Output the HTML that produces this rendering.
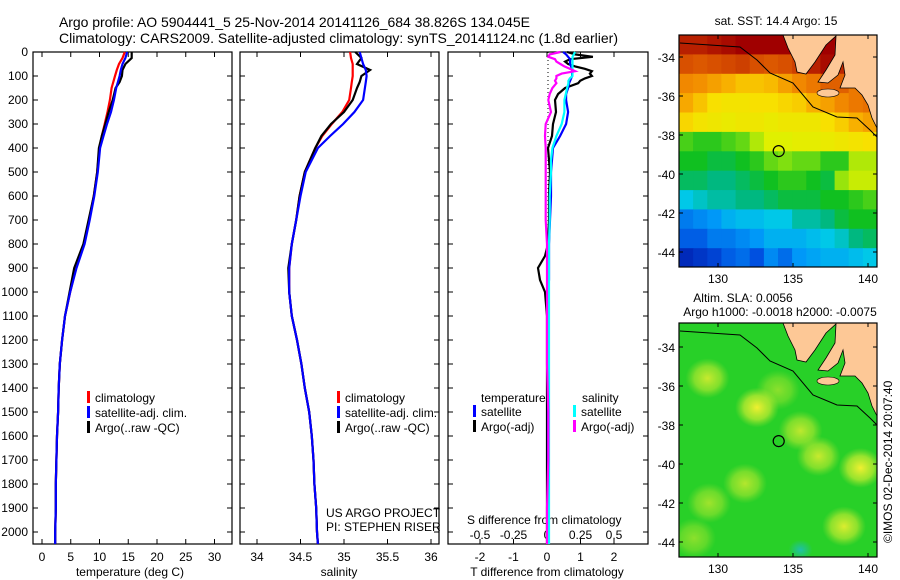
<!DOCTYPE html>
<html><head><meta charset="utf-8"><style>
html,body{margin:0;padding:0;background:#fff;}
svg{display:block;font-family:"Liberation Sans",sans-serif;}
text{font-size:12px;fill:#000;}
</style></head><body>
<svg id="chart" width="900" height="580" viewBox="0 0 900 580" xmlns="http://www.w3.org/2000/svg">
<defs>
<clipPath id="clipM1"><rect x="679" y="35" width="198" height="232"/></clipPath>
<clipPath id="clipM2"><rect x="679" y="323" width="198" height="234"/></clipPath>
<radialGradient id="blobY"><stop offset="0" stop-color="#f0f030" stop-opacity="1"/><stop offset="0.6" stop-color="#c8ec30" stop-opacity="0.7"/><stop offset="1" stop-color="#a0e030" stop-opacity="0"/></radialGradient>
<radialGradient id="blobT"><stop offset="0" stop-color="#20c0a8" stop-opacity="1"/><stop offset="1" stop-color="#20c0a8" stop-opacity="0"/></radialGradient>
</defs>
<text x="59" y="27" style="font-size:14px" textLength="471">Argo profile: AO 5904441_5 25-Nov-2014 20141126_684 38.826S 134.045E</text>
<text x="59" y="43" style="font-size:14px" textLength="559">Climatology: CARS2009. Satellite-adjusted climatology: synTS_20141124.nc (1.8d earlier)</text>
<g id="g1"></g>
<g id="g2"></g>
<g id="g3"></g>
<g id="m1"></g>
<g id="m2"></g>
<text transform="translate(892,543) rotate(-90)" style="font-size:12px">©IMOS 02-Dec-2014 20:07:40</text>
</svg>
<script>
// ---- profile data ----
const depths = [0,25,50,75,100,125,150,200,250,300,350,400,500,600,700,800,900,1000,1100,1200,1300,1400,1500,1600,1700,1800,1900,2000,2050];
const tClim = [14.4,14.0,13.4,13.0,12.7,12.4,12.1,11.8,11.4,10.9,10.4,10.0,9.6,9.0,8.2,7.3,5.9,4.9,4.0,3.5,3.1,2.9,2.8,2.6,2.5,2.4,2.4,2.3,2.3];
const tSat = [14.8,14.5,14.0,13.7,13.5,13.2,12.9,12.5,12.0,11.3,10.7,10.1,9.7,9.1,8.3,7.4,6.0,4.9,4.0,3.5,3.1,2.9,2.8,2.6,2.5,2.4,2.4,2.3,2.3];
const tArgo = [15.6,15.6,14.5,14.0,13.9,13.5,12.8,12.3,11.6,11.0,10.4,9.9,9.6,9.0,8.1,7.2,5.6,4.8,4.0,3.5,3.1,2.9,2.8,2.6,2.5,2.4,2.4,2.3,2.3];
const sClim = [35.07,35.08,35.1,35.1,35.1,35.09,35.08,35.06,34.98,34.86,34.75,34.67,34.55,34.49,34.45,34.40,34.37,34.37,34.40,34.46,34.51,34.55,34.60,34.63,34.65,34.66,34.68,34.69,34.70];
const sSat = [35.18,35.2,35.22,35.25,35.26,35.25,35.24,35.22,35.12,34.99,34.84,34.70,34.56,34.50,34.45,34.40,34.37,34.37,34.40,34.46,34.51,34.55,34.60,34.63,34.65,34.66,34.68,34.69,34.70];
const sArgo = [35.13,35.2,35.15,35.3,35.2,35.18,35.15,35.1,35.0,34.85,34.74,34.67,34.55,34.49,34.45,34.40,34.36,34.37,34.40,34.46,34.51,34.55,34.60,34.63,34.65,34.66,34.68,34.69,34.70];
const dDepths = [0,10,20,30,40,50,60,70,80,90,100,110,120,130,150,175,200,250,300,350,400,450,500,600,700,800,850,900,950,1000,1100,1300,1500,1700,1900,2050];
const dTArgo = [0.6,0.84,1.37,0.69,0.54,0.63,0.84,1.13,1.34,1.28,1.34,1.13,0.99,0.93,0.54,0.33,0.24,0.27,0.18,0.15,0.03,0.06,0.09,0.06,0.06,0.03,-0.06,-0.27,-0.21,-0.06,0,0,0,0,0,0];
const dTSat = [0.48,0.57,0.63,0.69,0.69,0.69,0.72,0.75,0.75,0.75,0.75,0.72,0.69,0.66,0.63,0.57,0.57,0.63,0.57,0.39,0.18,0.15,0.12,0.12,0.09,0.06,0.06,0.06,0.06,0.03,0.03,0.03,0.03,0.03,0.03,0.03];
const dSSat = [0.21,0.2,0.19,0.19,0.19,0.19,0.19,0.19,0.19,0.19,0.19,0.17,0.16,0.16,0.15,0.14,0.13,0.13,0.11,0.07,0.04,0.03,0.03,0.02,0.02,0.015,0.015,0.015,0.015,0.015,0.015,0.015,0.015,0.015,0.015,0.015];
const dSArgo = [0.1,0.02,0.01,0.06,0.07,0.1,0.13,0.17,0.21,0.11,0.07,0.07,0.06,0.07,0.04,0.02,0.01,0.03,-0.01,-0.015,-0.01,-0.01,-0.01,-0.01,-0.01,0,0,0,0,0,0,0,0.01,0.01,0,0];
const depthTicks = [0,100,200,300,400,500,600,700,800,900,1000,1100,1200,1300,1400,1500,1600,1700,1800,1900,2000];
const tTicks = [0,5,10,15,20,25,30];
const sTicks = ["34","34.5","35","35.5","36"];
const dTTicks = ["-2","-1","0","1","2"];
const dSTicks = ["-0.5","-0.25","0","0.25","0.5"];
// ---- map data ----
const sstLonCount = 14;
const sstRows = [
[17.6,17.6,17.8,18.0,18.2,18.4,18.4,18.5,18.5,18.5,18.3,18.0,17.5,17.5],
[17.0,16.9,17.0,17.1,17.2,17.0,16.9,17.0,17.2,17.6,18.0,17.5,17.0,17.0],
[16.3,16.2,16.0,15.8,15.6,15.6,15.7,16.0,16.3,16.5,16.8,16.8,16.5,16.5],
[15.9,15.6,15.3,15.2,15.2,15.3,15.3,15.4,15.5,15.8,16.0,16.3,16.5,16.6],
[15.4,15.2,15.1,15.0,15.1,15.1,15.0,15.1,15.1,15.1,15.3,15.5,15.8,16.0],
[14.2,14.1,14.1,14.2,14.3,14.6,14.8,14.8,14.9,14.9,15.0,15.1,15.2,15.3],
[14.0,14.0,13.9,13.9,14.0,14.1,14.3,14.4,14.3,14.3,14.1,14.1,14.6,14.6],
[13.8,13.8,13.7,13.7,13.8,13.9,14.0,14.1,14.1,14.0,13.9,14.5,14.7,14.7],
[13.4,13.5,13.6,13.6,13.7,13.7,13.8,13.9,13.9,13.9,14.0,14.0,14.1,14.2],
[12.8,12.9,13.0,13.2,13.3,13.3,13.4,13.4,13.6,13.6,13.7,13.9,14.0,14.0],
[12.6,12.6,12.8,12.8,12.9,13.0,13.2,13.2,13.2,13.3,13.4,13.5,13.7,13.8],
[12.2,12.3,12.4,12.6,12.7,12.5,12.9,12.7,13.0,13.1,13.2,13.2,13.3,13.4]];
const eddyLon = [129.3,132.6,135.5,136.7,139.5,138.4,131.8,129.4,128.4,134.0];
const eddyLat = [-35.6,-37.1,-38.3,-39.6,-40.2,-43.2,-41.0,-42.0,-43.8,-36.2];
const eddyAmp = [0.8,1.0,0.75,0.8,1.0,0.9,0.7,0.6,0.5,0.5];
const latTicks = [-34,-36,-38,-40,-42,-44];
const lonTicks = [130,135,140];
const argoLon = 134.045, argoLat = -38.826;

const NS='http://www.w3.org/2000/svg';
function mk(tag, attrs, parent, txt){const e=document.createElementNS(NS,tag);for(const k in attrs)e.setAttribute(k,attrs[k]);if(txt!==undefined)e.textContent=txt;parent.appendChild(e);return e;}

const TOP=52, BOT=544;
const yD = d => TOP + 0.24*d;
const xT = v => 42 + 5.75*v;
const xS = v => 257 + 87*(v-34);
const xdT = v => 547 + 33.5*v;
const xdS = v => 547 + 134*v;

function frame(g, x0, x1, name){
  const r=mk('rect',{x:x0,y:TOP,width:x1-x0,height:BOT-TOP,fill:'none',stroke:'#000','stroke-width':1.2},g);
  
  
  depthTicks.forEach(d=>{
    const y=yD(d);
    mk('line',{x1:x0,x2:x0+5,y1:y,y2:y,stroke:'#000'},g);
    mk('line',{x1:x1-5,x2:x1,y1:y,y2:y,stroke:'#000'},g);
  });
}
function xticks(g, xs, labels, name){
  xs.forEach((x,i)=>{
    mk('line',{x1:x,x2:x,y1:BOT-5,y2:BOT,stroke:'#000'},g);
    mk('line',{x1:x,x2:x,y1:TOP,y2:TOP+5,stroke:'#000'},g);
    const t=mk('text',{x:x,y:561,'text-anchor':'middle'},g,labels[i]);
    
    
  });
}
function line(g, xs, ds, color, name, w){
  const pts = xs.map((v,i)=>v.toFixed(1)+','+yD(ds[i]).toFixed(1)).join(' ');
  const p=mk('polyline',{points:pts,fill:'none',stroke:color,'stroke-width':w||2.2,'stroke-linejoin':'miter'},g);
  
  
}
function legend(g, x, y, color, label, name){
  const r=mk('rect',{x:x,y:y-11,width:3,height:12,fill:color},g);
  
  
  const t=mk('text',{x:x+8,y:y},g,label);
  
  
}

// Panel 1
const g1=document.getElementById('g1');
frame(g1,33,232,'temperature-panel');
depthTicks.forEach(d=>{
  const t=mk('text',{x:28,y:yD(d)+4,'text-anchor':'end'},g1,String(d));
  
  
});
xticks(g1, tTicks.map(xT), tTicks.map(String), 'temperature');
line(g1, tClim.map(xT), depths, '#ff0000', 'temperature-climatology-line');
line(g1, tArgo.map(xT), depths, '#000000', 'temperature-argo-line');
line(g1, tSat.map(xT), depths, '#0000ff', 'temperature-satellite-line');
legend(g1,87,402,'#ff0000','climatology','temp-legend-climatology');
legend(g1,87,417,'#0000ff','satellite-adj. clim.','temp-legend-satellite');
legend(g1,87,432,'#000000','Argo(..raw -QC)','temp-legend-argo');
mk('text',{x:130,y:576,'text-anchor':'middle',},g1,'temperature (deg C)');

// Panel 2
const g2=document.getElementById('g2');
frame(g2,240,439,'salinity-panel');
xticks(g2, sTicks.map(s=>xS(parseFloat(s))), sTicks, 'salinity');
line(g2, sClim.map(xS), depths, '#ff0000', 'salinity-climatology-line');
line(g2, sArgo.map(xS), depths, '#000000', 'salinity-argo-line');
line(g2, sSat.map(xS), depths, '#0000ff', 'salinity-satellite-line');
legend(g2,337,402,'#ff0000','climatology','sal-legend-climatology');
legend(g2,337,417,'#0000ff','satellite-adj. clim.','sal-legend-satellite');
legend(g2,337,432,'#000000','Argo(..raw -QC)','sal-legend-argo');
mk('text',{x:326,y:517,},g2,'US ARGO PROJECT');
mk('text',{x:326,y:531,},g2,'PI: STEPHEN RISER');
mk('text',{x:339,y:576,'text-anchor':'middle',},g2,'salinity');

// Panel 3
const g3=document.getElementById('g3');
frame(g3,448,648,'difference-panel');
mk('line',{x1:548,x2:548,y1:TOP,y2:BOT,stroke:'#000','stroke-dasharray':'1,3',},g3);
xticks(g3, dTTicks.map(s=>xdT(parseFloat(s))), dTTicks, 'temperature-difference');
dSTicks.forEach(s=>{
  const t=mk('text',{x:xdS(parseFloat(s)),y:539,'text-anchor':'middle'},g3,s);
  
  
});
mk('text',{x:467,y:524,},g3,'S difference from climatology');
line(g3, dTArgo.map(xdT), dDepths, '#000000', 'temperature-diff-argo-line');
line(g3, dTSat.map(xdT), dDepths, '#0000ff', 'temperature-diff-satellite-line');
line(g3, dSSat.map(xdS), dDepths, '#00ffff', 'salinity-diff-satellite-line');
line(g3, dSArgo.map(xdS), dDepths, '#ff00ff', 'salinity-diff-argo-line');
mk('text',{x:481,y:402,},g3,'temperature');
mk('text',{x:582,y:402,},g3,'salinity');
legend(g3,473,416,'#0000ff','satellite','diff-legend-temp-satellite');
legend(g3,473,431,'#000000','Argo(-adj)','diff-legend-temp-argo');
legend(g3,573,416,'#00ffff','satellite','diff-legend-sal-satellite');
legend(g3,573,431,'#ff00ff','Argo(-adj)','diff-legend-sal-argo');
mk('text',{x:547,y:576,'text-anchor':'middle',},g3,'T difference from climatology');

// Maps
const MX0=679, MX1=877, LON0=127.4, LON1=140.6;
const mxLon = lon => MX0 + (lon-LON0)*(MX1-MX0)/(LON1-LON0);
const stops=[[12.0,[0,16,160]],[12.5,[0,80,224]],[13.0,[0,152,248]],[13.4,[0,200,232]],[13.7,[0,184,128]],[14.0,[16,192,32]],[14.4,[128,224,16]],[14.8,[224,240,0]],[15.3,[248,224,0]],[15.8,[248,176,0]],[16.4,[240,128,0]],[17.0,[216,80,0]],[17.6,[184,32,0]],[18.2,[160,0,0]]];
function cmap(v){
  if(v<=stops[0][0])return 'rgb('+stops[0][1]+')';
  for(let i=1;i<stops.length;i++){if(v<=stops[i][0]){const a=stops[i-1],b=stops[i],f=(v-a[0])/(b[0]-a[0]);return 'rgb('+a[1].map((c,k)=>Math.round(c+(b[1][k]-c)*f)).join(',')+')';}}
  return 'rgb('+stops[stops.length-1][1]+')';
}
const landPts=[[783,0],[788,13],[795,27],[797,37],[806,39],[815,27],[826,10],[836,1],[835,20],[826,35],[818,47],[828,48],[838,40],[843,27],[845,40],[840,53],[855,53],[862,60],[868,70],[872,83],[877,93],[877,0]];
const shelfPts=[[680,8],[740,12],[757,25],[770,38],[793,48],[813,72],[837,82],[857,83],[870,95],[877,102]];
function mapCommon(g, top, bottom, latTopPx, clipId, name){
  // lat: -34 at latTopPx, 19.5 px/deg
  const yLat = lat => latTopPx + (-34-lat)*19.5;
  return yLat;
}
function drawMap(gid, top, bottom, lat34y, clipId, kind, name){
  const g=document.getElementById(gid);
  const yLat = lat => lat34y + (-34-lat)*19.5;
  const latTop = -34 + (lat34y-top)/19.5;
  const inner=mk('g',{'clip-path':'url(#'+clipId+')'},g);
  if(kind==='sst'){
    const rows=sstRows.length, dLat=(latTop-(-44.8))/rows, dLon=(LON1-LON0)/sstLonCount;
    sstRows.forEach((row,ri)=>{
      row.forEach((v,ci)=>{
        const x0=mxLon(LON0+ci*dLon), x1=mxLon(LON0+(ci+1)*dLon);
        const y0=yLat(latTop-ri*dLat), y1=yLat(latTop-(ri+1)*dLat);
        const c=mk('rect',{x:x0.toFixed(1),y:y0.toFixed(1),width:(x1-x0+0.6).toFixed(1),height:(y1-y0+0.6).toFixed(1),fill:cmap(v)},inner);
        
        
      });
    });
  } else {
    mk('rect',{x:MX0,y:top,width:MX1-MX0,height:bottom-top,fill:'#28d028'},inner);
    eddyLon.forEach((lon,i)=>{
      const e=mk('ellipse',{cx:mxLon(lon).toFixed(1),cy:yLat(eddyLat[i]).toFixed(1),rx:22,ry:20,fill:'url(#blobY)',opacity:eddyAmp[i]},inner);
      
      
    });
    mk('ellipse',{cx:mxLon(135.5),cy:yLat(-44.4),rx:12,ry:10,fill:'url(#blobT)'},inner);
  }
  const land=mk('polygon',{points:landPts.map(p=>p[0]+','+(p[1]+top)).join(' '),fill:'#fdc896',stroke:'#000','stroke-width':0.8},inner);
  
  
  mk('ellipse',{cx:828,cy:top+58,rx:11,ry:4,fill:'#fdc896',stroke:'#000','stroke-width':0.6,},inner);
  mk('polyline',{points:shelfPts.map(p=>p[0]+','+(p[1]+top)).join(' '),fill:'none',stroke:'#000','stroke-width':1,},inner);
  const c=mk('circle',{cx:mxLon(argoLon).toFixed(1),cy:yLat(argoLat).toFixed(1),r:5.5,fill:'none',stroke:'#000','stroke-width':1.2},g);
  
  
  mk('rect',{x:MX0,y:top,width:MX1-MX0,height:bottom-top,fill:'none',stroke:'#000','stroke-width':1.2,},g);
  latTicks.forEach(lat=>{
    const y=yLat(lat);
    mk('line',{x1:MX0,x2:MX0+4,y1:y,y2:y,stroke:'#000'},g);
    mk('line',{x1:MX1-4,x2:MX1,y1:y,y2:y,stroke:'#000'},g);
    const t=mk('text',{x:675,y:y+5,'text-anchor':'end'},g,String(lat));
    
    
  });
  lonTicks.forEach(lon=>{
    const x=mxLon(lon);
    mk('line',{x1:x,x2:x,y1:top,y2:top+4,stroke:'#000'},g);
    mk('line',{x1:x,x2:x,y1:bottom-4,y2:bottom,stroke:'#000'},g);
    const t=mk('text',{x:x,y:bottom+16,'text-anchor':'middle'},g,String(lon));
    
    
  });
}
drawMap('m1',35,267,57,'clipM1','sst','sst-map');
drawMap('m2',323,557,347,'clipM2','sla','sla-map');
mk('text',{x:776,y:25,'text-anchor':'middle',},document.getElementById('m1'),'sat. SST: 14.4 Argo: 15');
mk('text',{x:743,y:302,'text-anchor':'middle',},document.getElementById('m2'),'Altim. SLA: 0.0056');
mk('text',{x:780,y:316,'text-anchor':'middle',},document.getElementById('m2'),'Argo h1000: -0.0018 h2000: -0.0075');
</script>
</body></html>
